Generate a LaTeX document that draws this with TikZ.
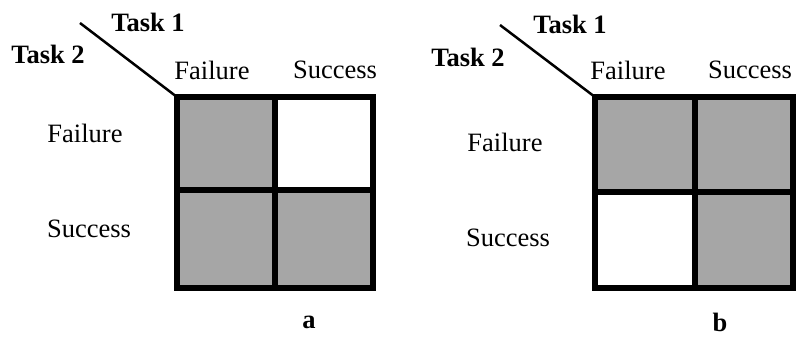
\documentclass[tikz,border=0pt]{standalone}
\usepackage{fontspec}
\setmainfont{Liberation Serif}
\begin{document}
\begin{tikzpicture}[x=1pt,y=-1pt,
  lbl/.style={inner sep=0pt, font=\fontsize{26.5}{29}\selectfont},
  tlbl/.style={inner sep=0pt, font=\fontsize{26.5}{29}\selectfont\bfseries},
  shade/.style={fill=black!35},
  grid/.style={line width=5.5pt},
  diag/.style={line width=2.5pt}]
\useasboundingbox (0,0) rectangle (797,339);
% ---- panel a ----
\fill[shade] (177,97) rectangle (275,190);
\fill[shade] (177,190) rectangle (275,288);
\fill[shade] (275,190) rectangle (373,288);
\draw[grid] (177,97) rectangle (373,288);
\draw[grid] (275,97) -- (275,288);
\draw[grid] (177,190) -- (373,190);
\coordinate (ca) at (177,97);
\coordinate (sa) at (80,23);
\draw[diag] (sa) -- (ca);
\node[tlbl] (t1a) at (148,22) {Task 1};
\node[tlbl] (t2a) at (48,54) {Task 2};
\node[lbl] (cfa) at (212,70) {Failure};
\node[lbl] (csa) at (335,70) {Success};
\node[lbl] (rfa) at (85,133) {Failure};
\node[lbl] (rsa) at (89,229) {Success};
\node[tlbl] (la) at (309,322) {a};
% ---- panel b ----
\fill[shade] (595,97) rectangle (695,192);
\fill[shade] (695,97) rectangle (793,192);
\fill[shade] (695,192) rectangle (793,288);
\draw[grid] (595,97) rectangle (793,288);
\draw[grid] (695,97) -- (695,288);
\draw[grid] (595,192) -- (793,192);
\coordinate (cb) at (595,97);
\coordinate (sb) at (500,25);
\draw[diag] (sb) -- (cb);
\node[tlbl] (t1b) at (570,24) {Task 1};
\node[tlbl] (t2b) at (468,57) {Task 2};
\node[lbl] (cfb) at (628,70) {Failure};
\node[lbl] (csb) at (750,70) {Success};
\node[lbl] (rfb) at (505,142) {Failure};
\node[lbl] (rsb) at (508,238) {Success};
\node[tlbl] (lb) at (720,322) {b};
\end{tikzpicture}
\end{document}
